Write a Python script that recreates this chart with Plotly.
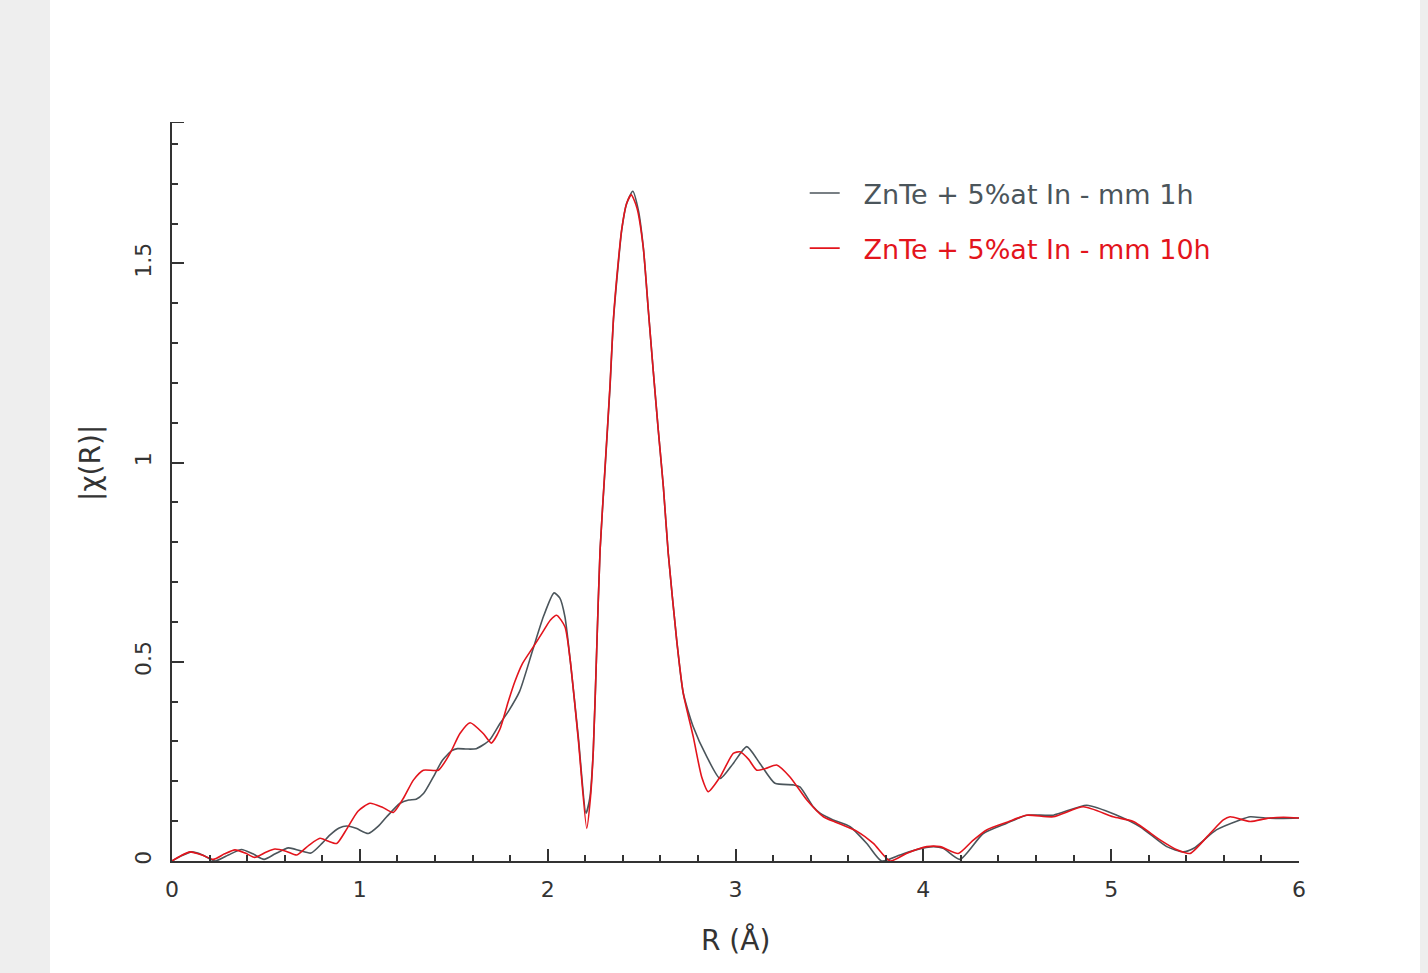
import plotly.graph_objects as go

# ---- data ----
r_1h = [0.00, 0.05, 0.105, 0.16, 0.23, 0.30, 0.37, 0.43, 0.49, 0.55, 0.62, 0.68, 0.74, 0.80, 0.84,
        0.89, 0.93, 0.98, 1.045, 1.10, 1.143, 1.214, 1.26, 1.30, 1.34, 1.39, 1.44, 1.49, 1.52, 1.57,
        1.62, 1.69, 1.746, 1.79, 1.85, 1.92, 1.977, 2.034, 2.065, 2.092, 2.12, 2.163, 2.204, 2.225,
        2.243, 2.261, 2.279, 2.305, 2.332, 2.35, 2.376, 2.394, 2.42, 2.453, 2.483, 2.509, 2.536, 2.562,
        2.589, 2.616, 2.642, 2.687, 2.722, 2.775, 2.847, 2.918, 2.988, 3.06, 3.13, 3.21, 3.31, 3.343,
        3.414, 3.45, 3.52, 3.61, 3.699, 3.778, 3.876, 3.96, 4.053, 4.106, 4.195, 4.319, 4.444, 4.55,
        4.692, 4.87, 5.03, 5.154, 5.296, 5.384, 5.44, 5.56, 5.686, 5.74, 5.82, 5.917, 6.0]
chi_1h = [0.000, 0.013, 0.023, 0.016, 0.000, 0.015, 0.029, 0.018, 0.004, 0.018, 0.033, 0.026, 0.020,
          0.045, 0.065, 0.083, 0.088, 0.082, 0.069, 0.088, 0.111, 0.145, 0.153, 0.155, 0.170, 0.210,
          0.253, 0.277, 0.282, 0.281, 0.282, 0.303, 0.345, 0.375, 0.425, 0.529, 0.613, 0.673, 0.660,
          0.613, 0.504, 0.312, 0.120, 0.160, 0.278, 0.529, 0.780, 0.981, 1.190, 1.357, 1.499, 1.583,
          1.650, 1.681, 1.633, 1.541, 1.382, 1.231, 1.081, 0.939, 0.772, 0.554, 0.421, 0.337, 0.262,
          0.207, 0.245, 0.287, 0.245, 0.195, 0.191, 0.186, 0.136, 0.120, 0.103, 0.086, 0.044, 0.000,
          0.015, 0.028, 0.036, 0.032, 0.004, 0.069, 0.095, 0.115, 0.115, 0.140, 0.115, 0.086, 0.036,
          0.023, 0.032, 0.078, 0.103, 0.111, 0.108, 0.107, 0.108]

r_10h = [0.00, 0.05, 0.096, 0.16, 0.22, 0.28, 0.335, 0.39, 0.44, 0.50, 0.548, 0.61, 0.664, 0.73, 0.788,
         0.83, 0.877, 0.93, 0.99, 1.054, 1.12, 1.178, 1.235, 1.285, 1.338, 1.418, 1.48, 1.533, 1.587,
         1.657, 1.70, 1.745, 1.79, 1.825, 1.865, 1.92, 1.97, 2.015, 2.048, 2.092, 2.12, 2.163, 2.208, 2.228,
         2.243, 2.261, 2.279, 2.305, 2.332, 2.35, 2.376, 2.394, 2.42, 2.445, 2.475, 2.509, 2.536, 2.562,
         2.589, 2.616, 2.642, 2.687, 2.722, 2.775, 2.82, 2.855, 2.918, 2.988, 3.024, 3.07, 3.113, 3.16,
         3.219, 3.29, 3.38, 3.468, 3.53, 3.592, 3.645, 3.734, 3.823, 3.91, 4.018, 4.089, 4.186, 4.26,
         4.337, 4.45, 4.55, 4.692, 4.852, 5.01, 5.118, 5.26, 5.35, 5.42, 5.526, 5.597, 5.633, 5.74,
         5.83, 5.917, 6.0]
chi_10h = [0.000, 0.014, 0.023, 0.015, 0.004, 0.018, 0.028, 0.020, 0.009, 0.022, 0.030, 0.024, 0.015,
           0.040, 0.057, 0.050, 0.044, 0.080, 0.125, 0.145, 0.135, 0.122, 0.160, 0.203, 0.228, 0.228,
           0.270, 0.320, 0.347, 0.320, 0.296, 0.330, 0.400, 0.450, 0.495, 0.535, 0.572, 0.605, 0.617,
           0.588, 0.504, 0.305, 0.082, 0.160, 0.278, 0.529, 0.780, 0.985, 1.195, 1.360, 1.505, 1.585,
           1.650, 1.672, 1.640, 1.540, 1.382, 1.231, 1.081, 0.939, 0.772, 0.554, 0.421, 0.312, 0.211,
           0.174, 0.211, 0.270, 0.274, 0.255, 0.228, 0.232, 0.241, 0.211, 0.153, 0.111, 0.098, 0.086,
           0.075, 0.044, 0.000, 0.019, 0.036, 0.036, 0.019, 0.050, 0.078, 0.098, 0.115, 0.111, 0.136,
           0.111, 0.099, 0.053, 0.028, 0.019, 0.069, 0.103, 0.111, 0.099, 0.107, 0.110, 0.108]

name_1h = "ZnTe + 5%at In - mm 1h"
name_10h = "ZnTe + 5%at In - mm 10h"
x_ticks = [0, 1, 2, 3, 4, 5, 6]
y_ticks = [0, 0.5, 1, 1.5]
y_tick_text = ["0", "0.5", "1", "1.5"]
x_title = "R (Å)"
y_title = "|χ(R)|"

GRAY = "#4b555b"
RED = "#e3141c"
AX = "#333333"
FONT = "DejaVu Sans"
GAP = "\u2002\u2009"

fig = go.Figure()
fig.add_trace(go.Scatter(x=r_1h, y=chi_1h, mode="lines", legendgroup="a",
                         name=f"<span style='color:{GRAY}'>{GAP}{name_1h}</span>",
                         line=dict(color=GRAY, width=1.6, shape="spline", smoothing=0.6)))
fig.add_trace(go.Scatter(x=r_10h, y=chi_10h, mode="lines", legendgroup="b",
                         name=f"<span style='color:{RED}'>{GAP}{name_10h}</span>",
                         line=dict(color=RED, width=1.6, shape="spline", smoothing=0.6)))

Y_TOP = 1.855

fig.update_layout(
    width=1428, height=973,
    margin=dict(l=172, r=129, t=122, b=112),
    paper_bgcolor="#eeeeee", plot_bgcolor="rgba(0,0,0,0)",
    font=dict(family=FONT, color=AX),
    showlegend=True,
    legend=dict(x=0.5614, y=0.9365, xanchor="left", yanchor="top", bgcolor="rgba(0,0,0,0)",
                font=dict(family=FONT, size=27), tracegroupgap=17, itemwidth=30),
    xaxis=dict(range=[0, 6], showgrid=False, zeroline=False, showline=True, linecolor=AX, linewidth=2,
               ticks="inside", ticklen=12, tickwidth=2, tickcolor=AX, tickvals=x_ticks,
               tickfont=dict(size=22, family=FONT, color=AX), ticklabelstandoff=8,
               minor=dict(dtick=0.2, ticks="inside", ticklen=6, tickwidth=2, tickcolor=AX)),
    yaxis=dict(range=[0, Y_TOP], showgrid=False, zeroline=False, showline=True, linecolor=AX, linewidth=2,
               ticks="inside", ticklen=12, tickwidth=2, tickcolor=AX, tickvals=y_ticks, ticktext=y_tick_text,
               tickangle=-90, tickfont=dict(size=22, family=FONT, color=AX), ticklabelstandoff=10,
               minor=dict(dtick=0.1, ticks="inside", ticklen=6, tickwidth=2, tickcolor=AX)),
    shapes=[
        dict(type="rect", xref="paper", yref="paper", x0=(50 - 172) / 1127, x1=(1420 - 172) / 1127,
             y0=-112 / 739, y1=(861 + 10) / 739 + 0.1, fillcolor="white", line=dict(width=0), layer="below"),
        dict(type="line", xref="x", yref="y", xsizemode="pixel", xanchor=0, x0=0, x1=12,
             y0=Y_TOP, y1=Y_TOP, line=dict(color=AX, width=2)),
    ],
    annotations=[
        dict(text=y_title, xref="paper", yref="paper", x=(90 - 172) / 1127, y=(861 - 463) / 739,
             xanchor="center", yanchor="middle",
             showarrow=False, textangle=-90, font=dict(size=28, family=FONT, color=AX)),
        dict(text=x_title, xref="paper", yref="paper", x=(735 - 172) / 1127, y=(861 - 940) / 739,
             xanchor="center", yanchor="middle",
             showarrow=False, font=dict(size=28, family=FONT, color=AX)),
    ],
)

fig.write_html("out.html", config={"displayModeBar": False},
               post_script="document.body.style.margin='0';document.body.style.overflow='hidden';")
